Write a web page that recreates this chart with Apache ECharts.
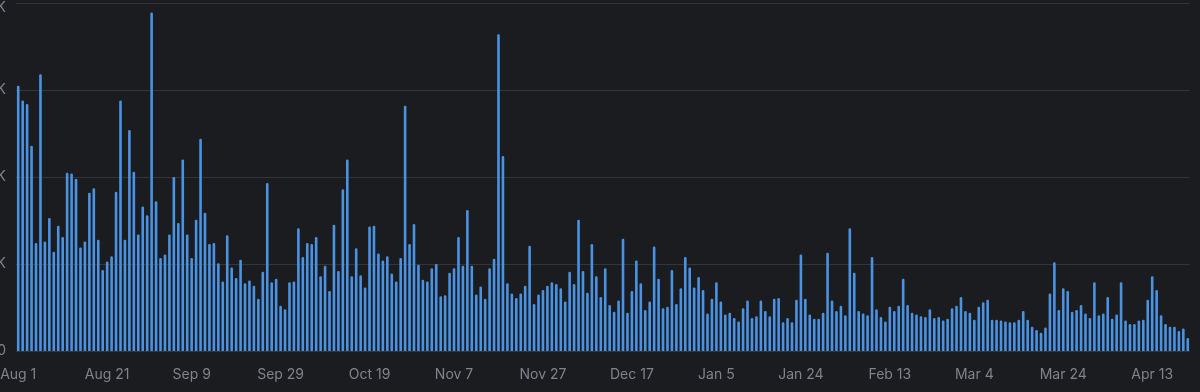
<!DOCTYPE html>
<html>
<head>
<meta charset="utf-8">
<script src="https://cdn.jsdelivr.net/npm/echarts@6/dist/echarts.min.js"></script>
<style>
  html, body { margin: 0; padding: 0; background: #1b1c20; }
  #chart { width: 1200px; height: 392px; }
</style>
</head>
<body>
<div id="chart"></div>
<script>
// Daily categories: Aug 1 .. Apr 21 (264 days, non-leap February)
const monthNames = ['Jan','Feb','Mar','Apr','May','Jun','Jul','Aug','Sep','Oct','Nov','Dec'];
const startDate = [2022, 7, 1];
const dayCount = 264;
const categories = [];
for (let i = 0; i < dayCount; i++) {
  const d = new Date(Date.UTC(startDate[0], startDate[1], startDate[2] + i));
  categories.push(monthNames[d.getUTCMonth()] + ' ' + d.getUTCDate());
}

// Tick labels shown on the x axis
const tickLabels = ['Aug 1','Aug 21','Sep 9','Sep 29','Oct 19','Nov 7','Nov 27','Dec 17','Jan 5','Jan 24','Feb 13','Mar 4','Mar 24','Apr 13'];

// Y axis ticks
const yTicks = [0, 1000, 2000, 3000, 4000];

// Daily values
const values = [
  3050, 2880, 2840, 2360, 1240, 3180, 1260, 1530, 1140, 1440,
  1310, 2050, 2040, 1980, 1190, 1260, 1820, 1870, 1280, 930,
  1030, 1090, 1830, 2880, 1280, 2540, 2060, 1340, 1660, 1560,
  3890, 1720, 1070, 1110, 1340, 2000, 1470, 2200, 1340, 1070,
  1510, 2440, 1590, 1230, 1240, 1010, 800, 1330, 960, 840,
  1050, 780, 810, 750, 600, 910, 1930, 790, 830, 520,
  480, 790, 800, 1410, 1080, 1240, 1230, 1310, 860, 980,
  690, 1450, 920, 1860, 2200, 860, 1180, 870, 730, 1430,
  1440, 1120, 1040, 1090, 890, 800, 1070, 2820, 1230, 1460,
  990, 820, 800, 950, 1000, 630, 640, 900, 950, 1310,
  980, 1620, 980, 650, 740, 600, 950, 1060, 3640, 2240,
  780, 660, 610, 660, 750, 1210, 540, 650, 700, 750,
  790, 770, 720, 570, 910, 770, 1510, 920, 670, 1230,
  860, 620, 950, 530, 450, 580, 1290, 440, 690, 1040,
  780, 470, 570, 1200, 830, 490, 510, 930, 540, 720,
  1080, 960, 730, 850, 700, 430, 600, 790, 570, 420,
  440, 380, 340, 490, 580, 380, 400, 580, 460, 400,
  600, 610, 330, 380, 330, 590, 1110, 600, 420, 370,
  370, 440, 1130, 580, 460, 520, 410, 1410, 900, 460,
  430, 410, 1080, 480, 390, 340, 510, 460, 520, 830,
  530, 440, 420, 400, 390, 480, 380, 390, 350, 370,
  490, 520, 620, 460, 440, 360, 510, 560, 590, 360,
  360, 350, 340, 330, 330, 360, 460, 360, 280, 240,
  210, 270, 660, 1020, 470, 720, 690, 450, 470, 530,
  430, 380, 790, 410, 430, 620, 370, 420, 790, 350,
  310, 310, 350, 360, 590, 860, 700, 410, 310, 280,
  280, 230, 260, 150
];

const chart = echarts.init(document.getElementById('chart'), null, { renderer: 'canvas' });
const yMax = yTicks[yTicks.length - 1];
chart.setOption({
  backgroundColor: '#1b1c20',
  animation: false,
  grid: { left: 16, right: 10, top: 3, bottom: 41, containLabel: false, outerBoundsMode: 'none' },
  xAxis: {
    type: 'category',
    data: categories,
    boundaryGap: true,
    axisLine: { show: false },
    axisTick: { show: false },
    axisLabel: {
      color: '#80838b',
      fontFamily: 'Inter',
      fontSize: 14,
      margin: 17,
      interval: function (index, value) { return tickLabels.indexOf(value) !== -1; }
    },
    splitLine: { show: false }
  },
  yAxis: {
    type: 'value',
    min: 0,
    max: yMax,
    interval: yTicks[1] - yTicks[0],
    axisLine: { show: false },
    axisTick: { show: false },
    axisLabel: {
      color: '#80838b',
      fontFamily: 'Inter',
      fontSize: 14,
      margin: 10,
      formatter: function (v) {
        if (v === 0) return '0';
        const s = (v / 1000) + 'K';
        return v === yMax ? '{t|' + s + '}' : s;
      },
      rich: { t: { padding: [10, 0, 0, 0], color: '#80838b', fontFamily: 'Inter', fontSize: 14 } }
    },
    splitLine: { show: true, lineStyle: { color: '#33353a', width: 1 } }
  },
  series: [{
    type: 'bar',
    data: values,
    barWidth: 2.6,
    itemStyle: { color: '#4a93e3', borderRadius: [1.2, 1.2, 0, 0] }
  }]
});
</script>
</body>
</html>
